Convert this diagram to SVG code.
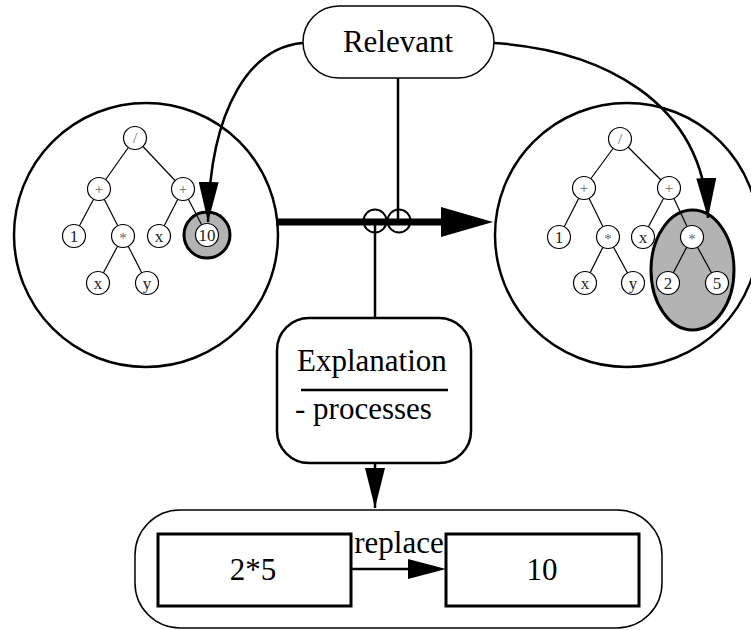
<svg xmlns="http://www.w3.org/2000/svg" width="751" height="630" viewBox="0 0 751 630">
  <style>
    .frame { fill: none; stroke: #000; stroke-width: 2.5; }
    .pill { fill: #fff; stroke: #000; stroke-width: 1.5; }
    .box { fill: #fff; stroke: #000; stroke-width: 3; }
    .edge { stroke: #000; stroke-width: 1.2; fill: none; }
    .tnode { fill: #fff; stroke: #000; stroke-width: 1.2; }
    .hilite { fill: #b3b3b3; stroke: #000; stroke-width: 3; }
    .wire { stroke: #000; stroke-width: 2.5; fill: none; }
    .lbl { font-family: "Liberation Serif", "Times New Roman", serif; fill: #000; }
    .big { font-size: 31px; }
    .tl { font-size: 17px; text-anchor: middle; fill: #222; }
    .op { font-size: 15px; text-anchor: middle; fill: #666; }
  </style>
  <defs>
    <marker id="tri" viewBox="0 0 40 20" refX="40" refY="10" markerWidth="40" markerHeight="20" markerUnits="userSpaceOnUse" orient="auto">
      <path d="M0,0 L40,10 L0,20 Z" fill="#000"/>
    </marker>
  </defs>

  <!-- tree before rewriting -->
  <g id="tree-before">
    <circle class="frame" cx="146" cy="235" r="132"/>
    <circle class="hilite" cx="207" cy="235" r="23"/>
    <g class="edge">
      <line x1="135" y1="138" x2="99" y2="189"/>
      <line x1="135" y1="138" x2="183" y2="189"/>
      <line x1="99" y1="189" x2="74" y2="236"/>
      <line x1="99" y1="189" x2="123" y2="236"/>
      <line x1="183" y1="189" x2="159" y2="236"/>
      <line x1="183" y1="189" x2="207" y2="235"/>
      <line x1="123" y1="236" x2="98" y2="283"/>
      <line x1="123" y1="236" x2="147" y2="283"/>
    </g>
    <g>
      <circle class="tnode" cx="135" cy="138" r="11.5"/>
      <circle class="tnode" cx="99" cy="189" r="11.5"/>
      <circle class="tnode" cx="183" cy="189" r="11.5"/>
      <circle class="tnode" cx="74" cy="236" r="11.5"/>
      <circle class="tnode" cx="123" cy="236" r="11.5"/>
      <circle class="tnode" cx="159" cy="236" r="11.5"/>
      <circle class="tnode" cx="207" cy="235" r="11.5"/>
      <circle class="tnode" cx="98" cy="283" r="11.5"/>
      <circle class="tnode" cx="147" cy="283" r="11.5"/>
    </g>
    <g class="lbl">
      <text class="op" x="135" y="143">/</text>
      <text class="op" x="99" y="194">+</text>
      <text class="op" x="183" y="194">+</text>
      <text class="tl" x="74" y="242">1</text>
      <text class="op" x="123" y="243">*</text>
      <text class="tl" x="159" y="242">x</text>
      <text class="tl" x="207" y="241">10</text>
      <text class="tl" x="98" y="289">x</text>
      <text class="tl" x="147" y="289">y</text>
    </g>
  </g>

  <!-- tree after rewriting -->
  <g id="tree-after">
    <circle class="frame" cx="627" cy="235" r="132"/>
    <ellipse class="hilite" cx="692.5" cy="270" rx="41.5" ry="60"/>
    <g class="edge">
      <line x1="620" y1="139" x2="584" y2="188"/>
      <line x1="620" y1="139" x2="669" y2="188"/>
      <line x1="584" y1="188" x2="559" y2="237"/>
      <line x1="584" y1="188" x2="608" y2="237"/>
      <line x1="669" y1="188" x2="643" y2="237"/>
      <line x1="669" y1="188" x2="692" y2="237"/>
      <line x1="608" y1="237" x2="585" y2="283"/>
      <line x1="608" y1="237" x2="633" y2="283"/>
      <line x1="692" y1="237" x2="668" y2="283"/>
      <line x1="692" y1="237" x2="717" y2="283"/>
    </g>
    <g>
      <circle class="tnode" cx="620" cy="139" r="11.5"/>
      <circle class="tnode" cx="584" cy="188" r="11.5"/>
      <circle class="tnode" cx="669" cy="188" r="11.5"/>
      <circle class="tnode" cx="559" cy="237" r="11.5"/>
      <circle class="tnode" cx="608" cy="237" r="11.5"/>
      <circle class="tnode" cx="643" cy="237" r="11.5"/>
      <circle class="tnode" cx="692" cy="237" r="11.5"/>
      <circle class="tnode" cx="585" cy="283" r="11.5"/>
      <circle class="tnode" cx="633" cy="283" r="11.5"/>
      <circle class="tnode" cx="668" cy="283" r="11.5"/>
      <circle class="tnode" cx="717" cy="283" r="11.5"/>
    </g>
    <g class="lbl">
      <text class="op" x="620" y="144">/</text>
      <text class="op" x="584" y="193">+</text>
      <text class="op" x="669" y="193">+</text>
      <text class="tl" x="559" y="243">1</text>
      <text class="op" x="608" y="244">*</text>
      <text class="tl" x="643" y="243">x</text>
      <text class="op" x="692" y="244">*</text>
      <text class="tl" x="585" y="289">x</text>
      <text class="tl" x="633" y="289">y</text>
      <text class="tl" x="668" y="289">2</text>
      <text class="tl" x="717" y="289">5</text>
    </g>
  </g>

  <!-- connectors -->
  <g id="connectors">
    <line x1="276" y1="222" x2="445" y2="222" stroke="#000" stroke-width="7"/>
    <polygon points="441,207 493,222 441,237" fill="#000"/>
    <line class="wire" x1="398" y1="78" x2="398" y2="221"/>
    <line class="wire" x1="375" y1="221" x2="375" y2="318"/>
    <circle cx="375" cy="221" r="11.5" fill="none" stroke="#000" stroke-width="2"/>
    <circle cx="399" cy="221" r="11.5" fill="none" stroke="#000" stroke-width="2"/>
    <path class="wire" d="M303,43 C252,47 210,105 208,222" marker-end="url(#tri)"/>
    <path class="wire" d="M494,43 C600,50 703,100 708,218" marker-end="url(#tri)"/>
    <line class="wire" x1="375" y1="463" x2="375" y2="508" marker-end="url(#tri)"/>
  </g>

  <g id="relevant">
    <rect class="pill" x="303" y="6" width="191" height="72" rx="36" ry="36"/>
    <text class="lbl big" x="398" y="52" text-anchor="middle">Relevant</text>
  </g>

  <g id="explanation">
    <rect x="277" y="318" width="194" height="145" rx="32" ry="32" fill="#fff" stroke="#000" stroke-width="2.5"/>
    <text class="lbl big" x="297" y="371">Explanation</text>
    <line x1="301" y1="390" x2="448" y2="390" stroke="#000" stroke-width="2.5"/>
    <text class="lbl big" x="295" y="419">- processes</text>
  </g>

  <g id="rewrite">
    <rect x="135" y="510" width="527" height="118" rx="45" ry="45" fill="#fff" stroke="#000" stroke-width="1.5"/>
    <g id="lhs">
      <rect class="box" x="158" y="534" width="193" height="72"/>
      <text class="lbl big" x="253" y="580" text-anchor="middle">2*5</text>
    </g>
    <g id="rhs">
      <rect class="box" x="446" y="534" width="193" height="72"/>
      <text class="lbl big" x="542" y="580" text-anchor="middle">10</text>
    </g>
    <line x1="351" y1="569" x2="410" y2="569" stroke="#000" stroke-width="2.5"/>
    <polygon points="408,559 446,569 408,579" fill="#000"/>
    <text class="lbl big" x="399" y="553" text-anchor="middle">replace</text>
  </g>
</svg>
